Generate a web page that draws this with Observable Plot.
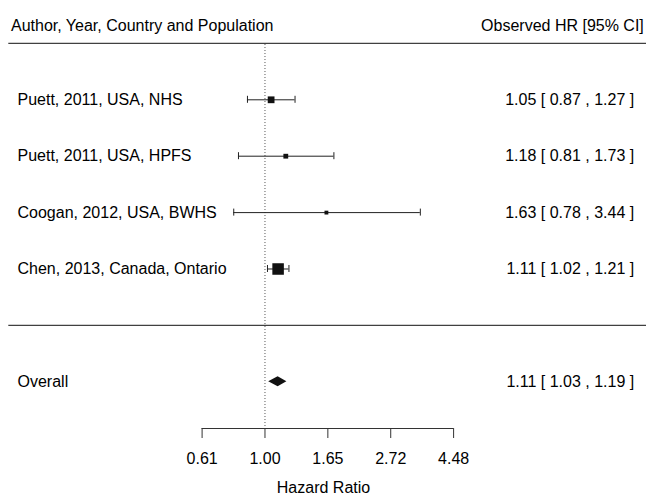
<!DOCTYPE html>
<html><head><meta charset="utf-8">
<script src="https://cdn.jsdelivr.net/npm/d3@7"></script>
<script src="https://cdn.jsdelivr.net/npm/@observablehq/plot@0.6"></script>
<style>body{margin:0;background:#fff} svg{display:block}</style>
</head><body><div id="chart"></div>
<script>
// ---- data ----
const studies = ["Puett, 2011, USA, NHS", "Puett, 2011, USA, HPFS", "Coogan, 2012, USA, BWHS", "Chen, 2013, Canada, Ontario"];
const hr = [1.05, 1.18, 1.63, 1.11];
const lower = [0.87, 0.81, 0.78, 1.02];
const upper = [1.27, 1.73, 3.44, 1.21];
const studyRows = [1, 2, 3, 4];

const overallLabel = "Overall";
const overallHR = 1.11;
const overallLower = 1.03;
const overallUpper = 1.19;
const overallRow = 6;

const headerLeft = "Author, Year, Country and Population";
const headerRight = "Observed HR [95% CI]";
const axisTitle = "Hazard Ratio";
const tickValues = [0.6065, 1, 1.6487, 2.7183, 4.4817];
const tickLabels = ["0.61", "1.00", "1.65", "2.72", "4.48"];

// ---- derived tables ----
const fmt = v => v.toFixed(2);
const prec = studies.map((s, i) => 1 / ((Math.log(upper[i]) - Math.log(lower[i])) / (2 * 1.96)));
const pmin = d3.min(prec), pmax = d3.max(prec);
const rows = studies.map((s, i) => ({
  label: s, est: hr[i], lb: lower[i], ub: upper[i], row: studyRows[i],
  psize: (prec[i] - pmin) / (pmax - pmin) + 0.5,
  txt: `${fmt(hr[i])} [ ${fmt(lower[i])} , ${fmt(upper[i])} ]`
}));
const overall = [{label: overallLabel, row: overallRow,
  txt: `${fmt(overallHR)} [ ${fmt(overallLower)} , ${fmt(overallUpper)} ]`}];
const dh = 0.0887; // diamond half height (rows)
const diamond = [
  {y: overallRow - dh, x1: overallHR, x2: overallHR},
  {y: overallRow, x1: overallLower, x2: overallUpper},
  {y: overallRow + dh, x1: overallHR, x2: overallHR}
];
const headerRow = -0.307;
const axisRow = 6.828;
const font = "'Liberation Sans', Arial, Helvetica, sans-serif";

const chart = Plot.plot({
  width: 646,
  height: 494,
  marginLeft: 0, marginRight: 0, marginTop: 0, marginBottom: 66,
  style: {fontFamily: font, fontSize: "16px", background: "#fff", color: "#000"},
  x: {type: "log", domain: [tickValues[0], tickValues[tickValues.length - 1]], range: [201.6, 453.1]},
  y: {domain: [-0.7606, axisRow], range: [0, 428], axis: null},
  r: {type: "linear", domain: [0, 1.5], range: [0, 6.5]},
  marks: [
    // header & separator lines
    Plot.ruleY([0, 5], {insetLeft: 8.3, stroke: "#404040", strokeWidth: 1.3}),
    // reference line at HR = 1
    Plot.ruleX([1], {y1: 0.02, y2: axisRow, stroke: "#555", strokeDasharray: "1,2"}),
    // CI whiskers
    Plot.ruleY(rows, {y: "row", x1: "lb", x2: "ub", stroke: "#222"}),
    Plot.ruleX(rows, {x: "lb", y1: "row", y2: "row", insetTop: -3.5, insetBottom: -3.5, stroke: "#222"}),
    Plot.ruleX(rows, {x: "ub", y1: "row", y2: "row", insetTop: -3.5, insetBottom: -3.5, stroke: "#222"}),
    // point estimates
    Plot.dot(rows, {x: "est", y: "row", r: "psize", symbol: "square", fill: "#111", stroke: null}),
    // pooled diamond
    Plot.areaX(diamond, {y: "y", x1: "x1", x2: "x2", fill: "#111"}),
    // axis line
    Plot.ruleY([axisRow], {x1: tickValues[0], x2: tickValues[tickValues.length - 1], stroke: "#333"}),
    Plot.axisX({ticks: tickValues, tickFormat: d => tickLabels[tickValues.indexOf(d)],
      tickSize: 10, tickPadding: 14, fontSize: 16, stroke: "#333",
      label: axisTitle, labelAnchor: "center", labelArrow: "none", labelOffset: 64}),
    // headers
    Plot.text([headerLeft], {y: headerRow, text: d => d, frameAnchor: "left", dx: 10.5, textAnchor: "start", fontSize: 16}),
    Plot.text([headerRight], {y: headerRow, text: d => d, frameAnchor: "right", dx: -2.7, textAnchor: "end", fontSize: 16}),
    // study labels & values
    Plot.text(rows, {y: "row", text: "label", frameAnchor: "left", dx: 17, textAnchor: "start", fontSize: 16}),
    Plot.text(rows, {y: "row", text: "txt", frameAnchor: "right", dx: -12.3, textAnchor: "end", fontSize: 16}),
    Plot.text(overall, {y: "row", text: "label", frameAnchor: "left", dx: 17, textAnchor: "start", fontSize: 16}),
    Plot.text(overall, {y: "row", text: "txt", frameAnchor: "right", dx: -12.3, textAnchor: "end", fontSize: 16})
  ]
});
document.getElementById("chart").append(chart);
</script></body></html>
